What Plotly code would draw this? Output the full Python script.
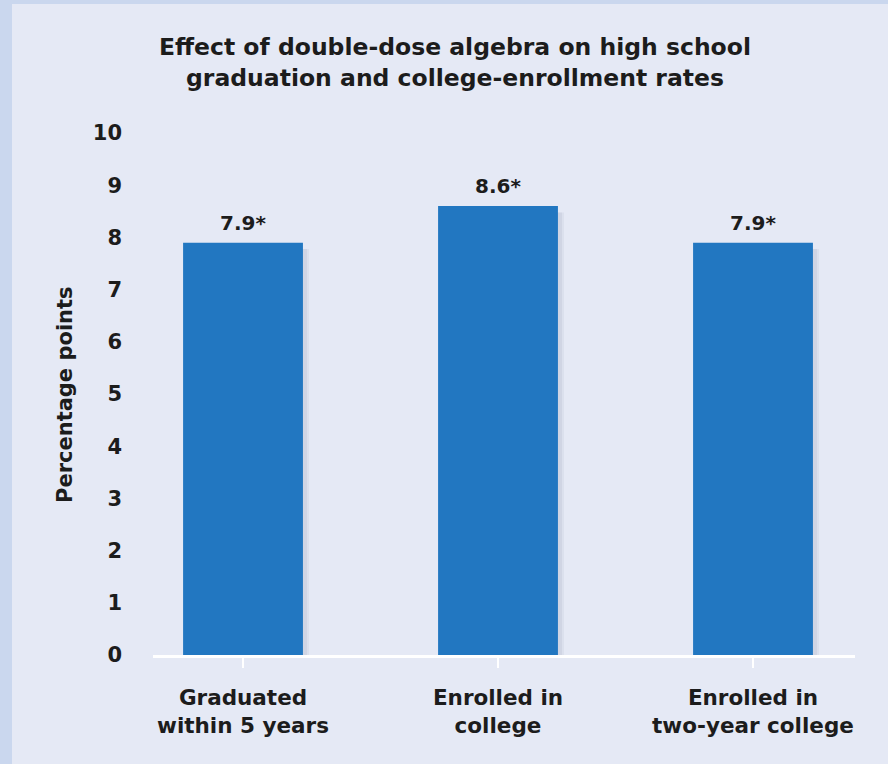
import plotly.graph_objects as go

categories = ["Graduated<br>within 5 years", "Enrolled in<br>college", "Enrolled in<br>two-year college"]
values = [7.9, 8.6, 7.9]
value_labels = ["7.9*", "8.6*", "7.9*"]
y_ticks = list(range(0, 11))
title_text = "Effect of double-dose algebra on high school<br>graduation and college-enrollment rates"
y_title = "Percentage points"

FONT = "DejaVu Sans"
TXT = "#1c1c1c"
W, H = 888, 764

fig = go.Figure()

# soft drop shadow behind bars (styling only)
for dx, alpha in [(0.018, 0.05), (0.010, 0.06)]:
    fig.add_trace(go.Bar(
        x=categories, y=values, base=-0.12,
        marker=dict(color=f"rgba(40,50,90,{alpha})", line=dict(width=0)),
        width=0.47 + dx, offset=-0.235 + 0.006,
        hoverinfo="skip",
    ))

fig.add_trace(go.Bar(
    x=categories, y=values,
    marker=dict(color="#2277c1", line=dict(width=0)),
    width=0.47, offset=-0.235,
    hoverinfo="skip",
))

for c, v, t in zip(categories, values, value_labels):
    fig.add_annotation(x=c, y=v, text=t, showarrow=False, yanchor="bottom", yshift=6,
                       font=dict(family=FONT, size=20, color=TXT, weight=700))

fig.add_annotation(x=455 / W, y=(764 - 62) / 764, xref="paper", yref="paper", text=title_text,
                   showarrow=False, xanchor="center", yanchor="middle", align="center",
                   font=dict(family=FONT, size=23.5, color=TXT, weight=700))

fig.add_annotation(x=65 / W, y=(764 - 395) / 764, xref="paper", yref="paper", text=y_title,
                   showarrow=False, textangle=-90, xanchor="center", yanchor="middle",
                   font=dict(family=FONT, size=21, color=TXT, weight=700))

# outer border strips (left and top)
fig.add_shape(type="rect", xref="paper", yref="paper", x0=0, x1=12 / W, y0=0, y1=1,
              fillcolor="#cad7ee", line=dict(width=0), layer="below")
fig.add_shape(type="rect", xref="paper", yref="paper", x0=0, x1=1, y0=(764 - 4) / 764, y1=1,
              fillcolor="#cad7ee", line=dict(width=0), layer="below")

fig.update_layout(
    width=W, height=H, autosize=False,
    margin=dict(l=0, r=0, t=0, b=0, autoexpand=False),
    paper_bgcolor="#e5e9f5",
    plot_bgcolor="rgba(0,0,0,0)",
    showlegend=False,
    barmode="overlay",
    xaxis=dict(
        domain=[153 / W, 855 / W],
        range=[-0.353, 2.4],
        showgrid=False, zeroline=False,
        showline=True, linecolor="white", linewidth=3, layer="below traces",
        ticks="outside", tickcolor="white", ticklen=10, tickwidth=2,
        ticklabelstandoff=11,
        tickfont=dict(family=FONT, size=21.5, color=TXT, weight=700),
    ),
    yaxis=dict(
        domain=[(764 - 655) / 764, (764 - 122.6) / 764],
        range=[0, 10.2],
        tickvals=y_ticks,
        showgrid=False, zeroline=False, showline=False,
        ticks="", ticklabelstandoff=30,
        tickfont=dict(family=FONT, size=21, color=TXT, weight=700),
    ),
)

fig.write_html("out.html")
